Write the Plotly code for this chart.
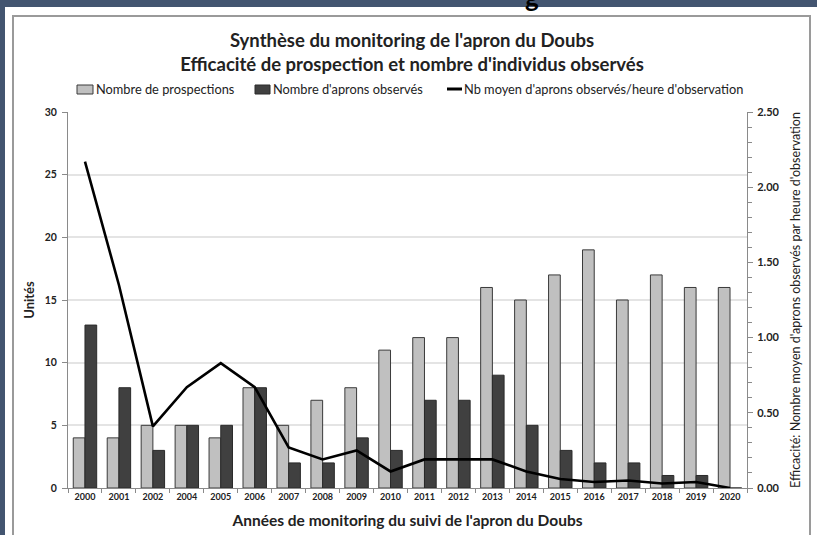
import plotly.graph_objects as go

# Monitoring years (2003 is missing from the series)
years = ["2000", "2001", "2002", "2004", "2005", "2006", "2007", "2008", "2009", "2010",
         "2011", "2012", "2013", "2014", "2015", "2016", "2017", "2018", "2019", "2020"]

# Number of survey outings per year
prospections = [4, 4, 5, 5, 4, 8, 5, 7, 8, 11, 12, 12, 16, 15, 17, 19, 15, 17, 16, 16]

# Number of aprons observed per year
aprons = [13, 8, 3, 5, 5, 8, 2, 2, 4, 3, 7, 7, 9, 5, 3, 2, 2, 1, 1, 0]

# Mean number of aprons observed per hour of observation
par_heure = [2.17, 1.35, 0.41, 0.67, 0.83, 0.67, 0.27, 0.19, 0.25, 0.11,
             0.19, 0.19, 0.19, 0.11, 0.06, 0.04, 0.05, 0.03, 0.04, 0.00]

FONT = "Lato"
W, H = 817, 535
L, R, T, B = 68, 70, 112, 47
PW, PH = W - L - R, H - T - B


def px_x(px):
    return (px - L) / PW


def px_y(py):
    return (H - B - py) / PH


fig = go.Figure()

fig.add_trace(go.Bar(
    x=years, y=prospections, name="Nombre de prospections",
    marker=dict(color="#c0c0c0", line=dict(color="#3a3a3a", width=1)),
    showlegend=False,
))
fig.add_trace(go.Bar(
    x=years, y=aprons, name="Nombre d'aprons observés",
    marker=dict(color="#404040", line=dict(color="#2a2a2a", width=1)),
    showlegend=False,
))
fig.add_trace(go.Scatter(
    x=years, y=par_heure, yaxis="y2", mode="lines",
    name="Nb moyen d'aprons observés/heure d'observation",
    line=dict(color="black", width=2.6),
    showlegend=False,
))

shapes = []
# white slide panel over the dark frame
shapes.append(dict(type="rect", xref="paper", yref="paper", layer="below",
                   x0=px_x(5), x1=px_x(W + 5), y0=px_y(H + 5), y1=px_y(7),
                   fillcolor="white", line=dict(width=0)))
# chart border
shapes.append(dict(type="rect", xref="paper", yref="paper", layer="below",
                   x0=px_x(13), x1=px_x(810), y0=px_y(H + 20), y1=px_y(16),
                   fillcolor="rgba(0,0,0,0)", line=dict(color="#9a9a9a", width=2)))

# legend swatches
legend_y = 89
shapes.append(dict(type="rect", xref="paper", yref="paper",
                   x0=px_x(77), x1=px_x(93), y0=px_y(94), y1=px_y(85),
                   fillcolor="#c0c0c0", line=dict(color="#3a3a3a", width=1)))
shapes.append(dict(type="rect", xref="paper", yref="paper",
                   x0=px_x(255), x1=px_x(270), y0=px_y(94), y1=px_y(85),
                   fillcolor="#404040", line=dict(color="#2a2a2a", width=1)))
shapes.append(dict(type="line", xref="paper", yref="paper",
                   x0=px_x(447), x1=px_x(462), y0=px_y(legend_y), y1=px_y(legend_y),
                   line=dict(color="black", width=3)))

annotations = []
for xs, txt in [(94, "Nombre de prospections"),
                (271, "Nombre d'aprons observés"),
                (462, "Nb moyen d'aprons observés/heure d'observation")]:
    annotations.append(dict(xref="paper", yref="paper", x=px_x(xs), y=px_y(legend_y),
                            xanchor="left", yanchor="middle", showarrow=False,
                            text=txt, font=dict(family=FONT, size=12.8, color="#222")))

# descender of the slide heading peeking above the chart
annotations.append(dict(xref="paper", yref="paper", x=px_x(532), y=px_y(0),
                        xanchor="center", yanchor="bottom", showarrow=False,
                        text="g", font=dict(family=FONT, size=26, color="black", weight="bold"),
                        yshift=-15))

fig.update_layout(
    width=W, height=H,
    margin=dict(l=L, r=R, t=T, b=B, autoexpand=False),
    paper_bgcolor="#435570",
    plot_bgcolor="white",
    barmode="group",
    bargap=0.31,
    bargroupgap=0,
    font=dict(family=FONT, color="#222"),
    title=dict(
        text="Synthèse du monitoring de l'apron du Doubs<br>Efficacité de prospection et nombre d'individus observés",
        x=412 / W, xanchor="center", xref="container",
        y=1 - 47 / H, yanchor="top", yref="container",
        font=dict(family=FONT, size=18.5, color="#222", weight="bold"),
    ),
    xaxis=dict(
        type="category", automargin=False,
        showline=True, linecolor="#8a8a8a", linewidth=1,
        ticks="outside", tickson="boundaries", ticklen=4, tickcolor="#8a8a8a",
        tickfont=dict(family=FONT, size=9, color="#222", weight="bold"),
        title=dict(text="Années de monitoring du suivi de l'apron du Doubs",
                   font=dict(family=FONT, size=15.5, color="#222", weight="bold"),
                   standoff=14),
        showgrid=False,
    ),
    yaxis=dict(
        range=[0, 30], dtick=5, automargin=False,
        showline=True, linecolor="#8a8a8a", linewidth=1,
        ticks="outside", ticklen=5, tickcolor="#8a8a8a",
        ticklabelstandoff=3,
        tickfont=dict(family=FONT, size=10.5, color="#222", weight="bold"),
        showgrid=True, gridcolor="#e4e4e4", gridwidth=1.5,
        zeroline=False,
        title=dict(text="Unités", font=dict(family=FONT, size=13, color="#222", weight="bold"),
                   standoff=7),
    ),
    yaxis2=dict(
        overlaying="y", side="right", automargin=False,
        range=[0, 2.5], dtick=0.5, tickformat=".2f",
        showline=True, linecolor="#8a8a8a", linewidth=1,
        ticks="outside", ticklen=5, tickcolor="#8a8a8a",
        ticklabelstandoff=2,
        minor=dict(dtick=0.1, ticks="outside", ticklen=4, tickcolor="#8a8a8a", showgrid=False),
        tickfont=dict(family=FONT, size=11, color="#222", weight="bold"),
        showgrid=False, zeroline=False,
        title=dict(text="Efficacité: Nombre moyen d'aprons observés par heure d'observation",
                   font=dict(family=FONT, size=12.5, color="#222"),
                   standoff=12),
    ),
    shapes=shapes,
    annotations=annotations,
)

fig.write_html("out.html")
